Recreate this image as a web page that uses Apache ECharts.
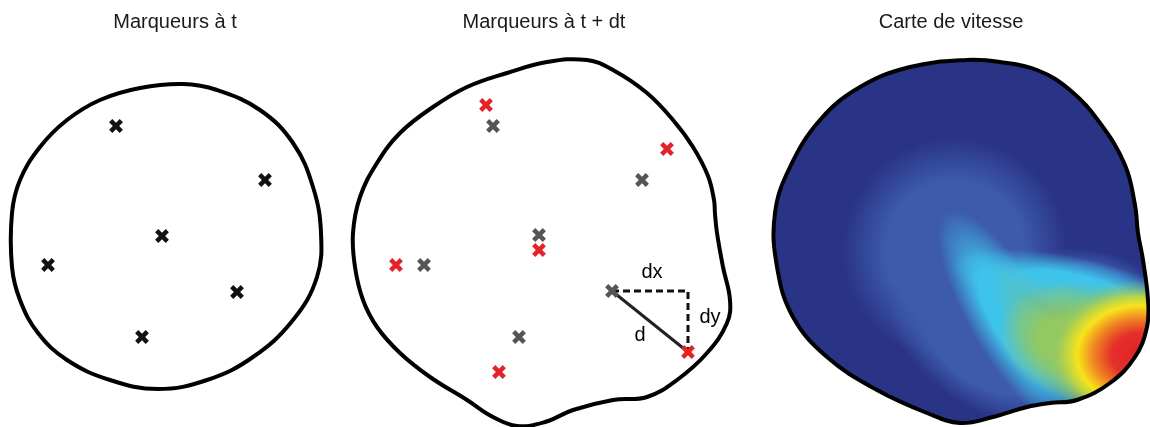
<!DOCTYPE html>
<html>
<head>
<meta charset="utf-8">
<script src="https://cdn.jsdelivr.net/npm/echarts@6/dist/echarts.min.js"></script>
<style>html,body{margin:0;padding:0;background:#fff}#c{width:1150px;height:427px}</style>
</head>
<body>
<div id="c"></div>
<script>
// ---------- DATA (pixel-like units) ----------
const panelTitles = ['Marqueurs à t', 'Marqueurs à t + dt', 'Carte de vitesse'];

// outlines of the cell at t, at t+dt, and of the speed map
const outlineT0 = [[183,84],[217,90],[260,110],[293,143],[313,187],[321,233],[317,277],[293,320],[253,357],[207,380],[158,389],[110,380],[67,360],[38,333],[20,300],[12,267],[12,213],[20,180],[40,147],[67,120],[100,100],[140,88]];
const outlineT1 = [[587,60],[613,70],[647,93],[673,120],[693,147],[708,176],[714,200],[715,214],[717,233],[723,267],[730,300],[727,323],[707,353],[677,380],[647,397],[613,400],[573,410],[545,422],[517,426],[493,417],[467,400],[430,377],[400,353],[377,327],[363,300],[355,267],[353,233],[360,197],[377,163],[400,133],[433,107],[467,87],[507,73],[547,62]];
const outlineMap = [[967,60],[1000,62],[1037,70],[1070,90],[1100,123],[1125,165],[1135,205],[1138,233],[1143,260],[1148,300],[1147,327],[1135,357],[1110,383],[1077,400],[1050,403],[1027,407],[993,417],[960,423],[927,413],[877,390],[827,357],[793,317],[777,267],[775,213],[790,167],[820,120],[860,87],[910,67]];

// markers
const markersT0   = [[116,126],[265,180],[162,236],[48,265],[237,292],[142,337]];
const markersGray = [[493,126],[642,180],[539,235],[424,265],[612,291],[519,337]];
const markersRed  = [[486,105],[667,149],[539,250],[396,265],[688,352],[499,372]];

// displacement of one marker
const vecFrom = [612,291];
const vecTo   = [688,352];
const annotations = [['dx',652,272],['dy',710,317],['d',640,335]];

// speed field zones [x, y, spread x, spread y, tilt in degrees], by increasing speed level
const speedLow   = [[955,250,112,112,0],[985,345,110,62,35],[1085,293,80,44,8]];
const speedCyan  = [[1012,322,128,40,59],[1070,288,122,32,11]];
const speedTeal  = [[1045,340,92,30,59],[1100,308,88,25,11]];
const speedGreen = [[1068,342,72,55,20]];
const speedPeak  = [[1140,355,95,75,0]];

// ---------- STYLE ----------
const FONT = "'Liberation Sans', Arial, Helvetica, sans-serif";
const NAVY = '#2a3487';
const levelColors = ['#3d5aab', '#3ec3ec', '#5cc4b6', '#93c960'];
const levelCores  = [0.62, 0.45, 0.35, 0.4];
const SMOOTH = 0.4;
const titleX = [175, 544, 951];
const X_PATH = 'path://M35,0H65V35H100V65H65V100H35V65H0V35H35Z';

function rgba(hex, a) {
  const n = parseInt(hex.slice(1), 16);
  return 'rgba(' + ((n >> 16) & 255) + ',' + ((n >> 8) & 255) + ',' + (n & 255) + ',' + a + ')';
}
function soft(hex, core) {
  return {type:'radial', x:0.5, y:0.5, r:0.5, global:false, colorStops:[
    {offset:0, color:rgba(hex,1)}, {offset:core, color:rgba(hex,1)},
    {offset:(core + 1) / 2, color:rgba(hex,0.5)}, {offset:1, color:rgba(hex,0)}]};
}
const peakGradient = {type:'radial', x:0.5, y:0.5, r:0.5, global:false, colorStops:[
  {offset:0, color:'#e2202a'}, {offset:0.3, color:'#e4302a'}, {offset:0.5, color:'#f08a22'},
  {offset:0.66, color:'#f7e41b'}, {offset:0.78, color:'rgba(195,214,64,0.9)'},
  {offset:0.9, color:'rgba(150,201,95,0.4)'}, {offset:1, color:'rgba(147,201,96,0)'}]};

function zoneEl(api, z, fill) {
  const c = api.coord([z[0], z[1]]);
  const s = api.size([z[2], z[3]]);
  return {type:'circle', x:c[0], y:c[1], scaleY:s[1] / s[0], rotation:-z[4] * Math.PI / 180,
          shape:{cx:0, cy:0, r:s[0]}, style:{fill:fill}};
}

function outlineSeries(points) {
  return {
    type:'custom', coordinateSystem:'cartesian2d', silent:true, z:4,
    data:[points[0]], encode:{x:0, y:1},
    renderItem: function (params, api) {
      return {type:'polygon', shape:{points: points.map(p => api.coord(p)), smooth:SMOOTH},
              style:{fill:'none', stroke:'#000', lineWidth:4}};
    }
  };
}

const heatSeries = {
  type:'custom', coordinateSystem:'cartesian2d', silent:true, z:2,
  data:[outlineMap[0]], encode:{x:0, y:1},
  renderItem: function (params, api) {
    const pts = outlineMap.map(p => api.coord(p));
    const children = [{type:'polygon', shape:{points:pts, smooth:SMOOTH}, style:{fill:NAVY}}];
    [speedLow, speedCyan, speedTeal, speedGreen].forEach(function (zone, i) {
      zone.forEach(function (z) { children.push(zoneEl(api, z, soft(levelColors[i], levelCores[i]))); });
    });
    speedPeak.forEach(function (z) { children.push(zoneEl(api, z, peakGradient)); });
    return {type:'group', clipPath:{type:'polygon', shape:{points:pts, smooth:SMOOTH}}, children:children};
  }
};

function markerSeries(data, color) {
  return {type:'scatter', data:data, symbol:X_PATH, symbolRotate:45, symbolSize:15,
          itemStyle:{color:color, opacity:1}, silent:true, z:6};
}

const chart = echarts.init(document.getElementById('c'), null, {renderer:'canvas'});
chart.setOption({
  animation:false,
  backgroundColor:'#ffffff',
  title: panelTitles.map((t, i) => ({
    text:t, left:titleX[i], top:12, textAlign:'center', padding:0,
    textStyle:{fontFamily:FONT, fontSize:20, fontWeight:'normal', color:'#1a1a1a'}
  })),
  grid:{left:0, right:0, top:0, bottom:0},
  xAxis:{type:'value', min:0, max:1150, show:false},
  yAxis:{type:'value', min:0, max:427, inverse:true, show:false},
  series:[
    heatSeries,
    outlineSeries(outlineT0),
    outlineSeries(outlineT1),
    outlineSeries(outlineMap),
    {type:'line', data:[vecFrom, [vecTo[0], vecFrom[1]], vecTo], symbol:'none', silent:true, z:3,
     lineStyle:{color:'#111', width:3, type:[7,4]}},
    {type:'line', data:[vecFrom, vecTo], symbol:'none', silent:true, z:3,
     lineStyle:{color:'#222', width:3}},
    markerSeries(markersT0, '#111'),
    markerSeries(markersGray, '#555'),
    markerSeries(markersRed, '#e42229'),
    {type:'scatter', silent:true, z:7, symbolSize:0, itemStyle:{color:'#000'},
     data: annotations.map(a => ({name:a[0], value:[a[1], a[2]]})),
     label:{show:true, position:'inside', formatter:p => p.name, fontFamily:FONT, fontSize:20,
            color:'#000', textBorderWidth:0, opacity:1}}
  ]
});
</script>
</body>
</html>
